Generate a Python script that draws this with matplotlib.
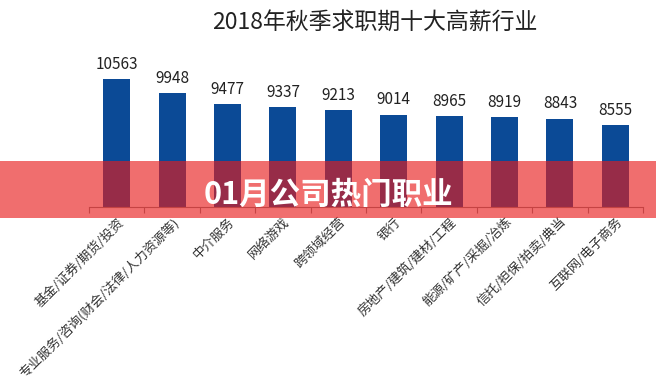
import matplotlib.pyplot as plt
from matplotlib.patches import Rectangle

plt.rcParams['font.family'] = ['Noto Sans CJK SC', 'DejaVu Sans']

# 数据
categories = [
    "基金/证券/期货/投资",
    "专业服务/咨询(财会/法律/人力资源等)",
    "中介服务",
    "网络游戏",
    "跨领域经营",
    "银行",
    "房地产/建筑/建材/工程",
    "能源/矿产/采掘/冶炼",
    "信托/担保/拍卖/典当",
    "互联网/电子商务",
]
salaries = [10563, 9948, 9477, 9337, 9213, 9014, 8965, 8919, 8843, 8555]

title = "2018年秋季求职期十大高薪行业"
banner = "01月公司热门职业"

dpi = 100
fig = plt.figure(figsize=(6.56, 3.81), dpi=dpi)
ax = fig.add_axes([0.1357, 0.4567, 0.8445, 0.3622])

x = range(len(categories))
bars = ax.bar(x, salaries, width=0.49, color="#0b4a96", zorder=2)

# Werte über den Balken
for b, v in zip(bars, salaries):
    ax.annotate(str(v), (b.get_x() + b.get_width() / 2, b.get_height()),
                xytext=(0, 4.5), textcoords="offset points",
                ha="center", va="bottom", fontsize=11, color="#222222")

ax.set_xlim(-0.5, len(categories) - 0.5)
ax.set_ylim(5000, 11000)

# Achsen
for s in ["top", "left", "right"]:
    ax.spines[s].set_visible(False)
ax.spines["bottom"].set_color("#8a8a8a")
ax.spines["bottom"].set_linewidth(0.8)
ax.set_yticks([])

ax.set_xticks([i - 0.5 for i in range(len(categories) + 1)], minor=False)
ax.set_xticklabels([])
ax.tick_params(axis="x", which="major", length=4, color="#8a8a8a", width=0.8)
ax.set_xticks(list(x), minor=True)
ax.set_xticklabels(categories, minor=True, rotation=45, ha="right",
                   rotation_mode="anchor", fontsize=9.4, color="#333333")
ax.tick_params(axis="x", which="minor", length=0, pad=6)

fig.text(0.572, 0.94, title, ha="center", va="center",
         fontsize=16.5, color="#222222")

# roter Banner quer drüber
band = Rectangle((0, 0.4278), 1, 0.1496, transform=fig.transFigure,
                 facecolor="#e81c1c", alpha=0.64, edgecolor="none", zorder=5)
fig.patches.append(band)
fig.text(0.5, 0.488, banner, ha="center", va="center", fontsize=22,
         fontweight="bold", color="white", zorder=6)

fig.savefig("out.png", dpi=dpi)
plt.close(fig)
